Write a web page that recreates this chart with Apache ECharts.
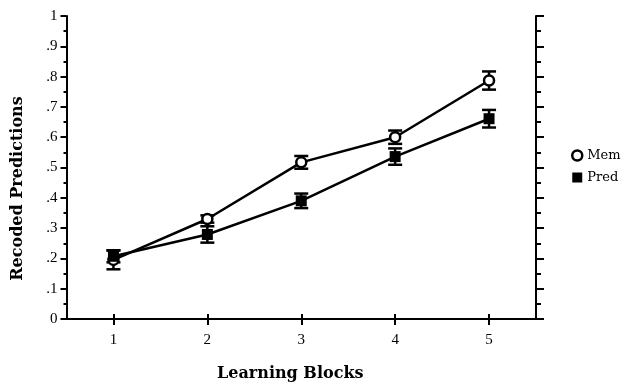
<!DOCTYPE html>
<html>
<head>
<meta charset="utf-8">
<script src="https://cdn.jsdelivr.net/npm/echarts@6/dist/echarts.min.js"></script>
<style>
  html, body { margin: 0; padding: 0; background: #fff; }
  #chart { width: 640px; height: 387px; }
</style>
</head>
<body>
<div id="chart"></div>
<script>
// Learning blocks on the x axis
var blocks = [1, 2, 3, 4, 5];
// Mean recoded predictions and standard errors per condition
var memValues = [0.195, 0.330, 0.517, 0.600, 0.787];
var memErrors = [0.031, 0.012, 0.021, 0.022, 0.030];
var predValues = [0.207, 0.279, 0.390, 0.536, 0.661];
var predErrors = [0.020, 0.027, 0.024, 0.027, 0.029];
// y tick labels in the journal style (no leading zero)
var yTickLabels = ['0', '.1', '.2', '.3', '.4', '.5', '.6', '.7', '.8', '.9', '1'];

var serif = '"Liberation Serif", "DejaVu Serif", serif';
var wideSerif = '"DejaVu Serif", "Liberation Serif", serif';

function pairs(values) {
  return blocks.map(function (b, i) { return [b, values[i]]; });
}
function errRows(values, errors) {
  return blocks.map(function (b, i) { return [b, values[i] - errors[i], values[i] + errors[i]]; });
}

// I-shaped error bar with caps
function renderErrorBar(params, api) {
  var x = api.value(0);
  var lo = api.coord([x, api.value(1)]);
  var hi = api.coord([x, api.value(2)]);
  var half = 7;
  var style = { stroke: '#000', lineWidth: 2.5 };
  return {
    type: 'group',
    children: [
      { type: 'line', shape: { x1: lo[0], y1: lo[1], x2: hi[0], y2: hi[1] }, style: style },
      { type: 'line', shape: { x1: lo[0] - half, y1: lo[1], x2: lo[0] + half, y2: lo[1] }, style: style },
      { type: 'line', shape: { x1: hi[0] - half, y1: hi[1], x2: hi[0] + half, y2: hi[1] }, style: style }
    ]
  };
}

var axisLine = { show: true, lineStyle: { color: '#000', width: 2 } };

var chart = echarts.init(document.getElementById('chart'), null, { renderer: 'canvas' });
chart.setOption({
  animation: false,
  backgroundColor: '#fff',
  grid: { left: 66.5, right: 104, top: 16, bottom: 65 },
  legend: {
    orient: 'vertical',
    left: 566,
    top: 144,
    itemGap: 9,
    itemWidth: 10,
    itemHeight: 10,
    textStyle: { fontFamily: wideSerif, fontSize: 13, color: '#000' },
    data: [
      { name: 'Mem', icon: 'circle', itemStyle: { color: '#fff', borderColor: '#000', borderWidth: 2.5 } },
      { name: 'Pred', icon: 'rect', itemStyle: { color: '#000' } }
    ]
  },
  xAxis: [
    {
      type: 'value', position: 'bottom', min: 0.5, max: 5.5,
      name: 'Learning Blocks', nameLocation: 'middle', nameGap: 47,
      nameTextStyle: {
        fontFamily: wideSerif, fontSize: 16, fontWeight: 'bold', color: '#000',
        padding: [0, 22, 0, 0]
      },
      axisLine: axisLine,
      axisTick: { show: true, inside: false, length: 6, customValues: blocks, lineStyle: { color: '#000', width: 2 } },
      axisLabel: { customValues: blocks, margin: 14, fontFamily: serif, fontSize: 15, color: '#000' },
      splitLine: { show: false }
    },
    {
      type: 'value', position: 'top', min: 0.5, max: 5.5,
      axisLine: axisLine,
      axisTick: { show: true, inside: false, length: 5, customValues: blocks, lineStyle: { color: '#000', width: 2 } },
      axisLabel: { show: false },
      splitLine: { show: false }
    }
  ],
  yAxis: [
    {
      type: 'value', position: 'left', min: 0, max: 1, interval: 0.1,
      name: 'Recoded Predictions', nameLocation: 'middle', nameGap: 41,
      nameTextStyle: {
        fontFamily: wideSerif, fontSize: 16, fontWeight: 'bold', color: '#000',
        padding: [0, 42, 0, 0]
      },
      axisLine: axisLine,
      axisTick: { show: true, inside: false, length: 6, lineStyle: { color: '#000', width: 2 } },
      minorTick: { show: true, splitNumber: 2, length: 3, lineStyle: { color: '#000', width: 2 } },
      axisLabel: {
        margin: 9, fontFamily: serif, fontSize: 15, color: '#000',
        formatter: function (v) { return yTickLabels[Math.round(v * 10)]; }
      },
      splitLine: { show: false }
    },
    {
      type: 'value', position: 'right', min: 0, max: 1, interval: 0.1,
      axisLine: axisLine,
      axisTick: { show: true, inside: false, length: 8, lineStyle: { color: '#000', width: 2 } },
      minorTick: { show: true, splitNumber: 2, length: 5, lineStyle: { color: '#000', width: 2 } },
      axisLabel: { show: false },
      splitLine: { show: false }
    }
  ],
  series: [
    {
      name: 'Pred err', type: 'custom', renderItem: renderErrorBar,
      data: errRows(predValues, predErrors), z: 1, silent: true
    },
    {
      name: 'Mem err', type: 'custom', renderItem: renderErrorBar,
      data: errRows(memValues, memErrors), z: 1, silent: true
    },
    {
      name: 'Mem', type: 'line', data: pairs(memValues), z: 3,
      symbol: 'circle', symbolSize: 10, showSymbol: true,
      itemStyle: { color: '#fff', borderColor: '#000', borderWidth: 2.5 },
      lineStyle: { color: '#000', width: 2.5 }
    },
    {
      name: 'Pred', type: 'line', data: pairs(predValues), z: 4,
      symbol: 'rect', symbolSize: 11, showSymbol: true,
      itemStyle: { color: '#000' },
      lineStyle: { color: '#000', width: 2.5 }
    }
  ]
});
</script>
</body>
</html>
